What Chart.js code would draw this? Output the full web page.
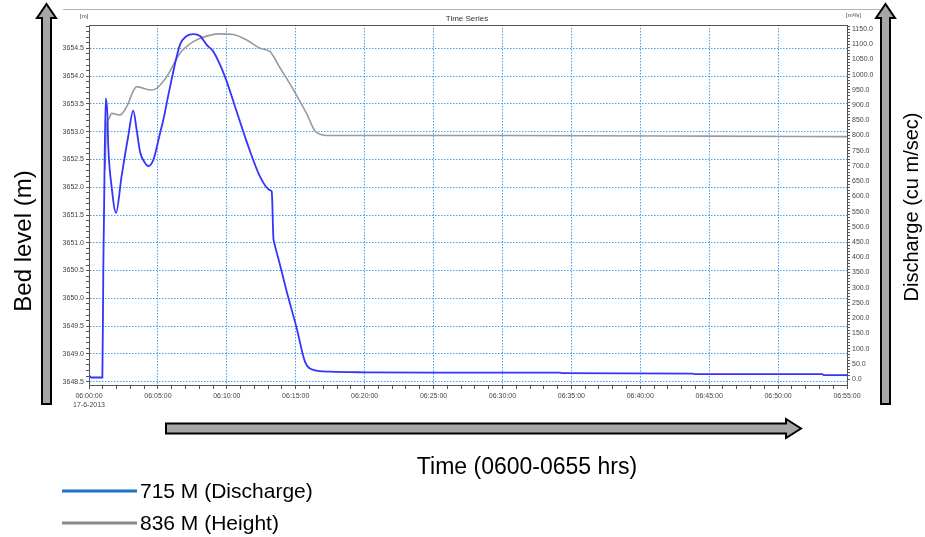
<!DOCTYPE html>
<html>
<head>
<meta charset="utf-8">
<script src="https://cdn.jsdelivr.net/npm/chart.js@4.4.0/dist/chart.umd.min.js"></script>
<style>
  body { margin: 0; background: #fff; }
  #wrap { position: relative; width: 925px; height: 537px; overflow: hidden; background: #fff; font-family: "Liberation Sans", Arial, sans-serif; }
  #chart { position: absolute; left: 0; top: 0; }
  .txt { position: absolute; white-space: nowrap; color: #000; }
  .rot { text-align: center; width: 240px; transform: rotate(-90deg); transform-origin: 50% 50%; }
  .small { font-size: 6px; color: #444; }
</style>
</head>
<body>
<div id="wrap">
  <svg width="925" height="537" style="position:absolute;left:0;top:0">
    <!-- panel top line -->
    <line x1="63" y1="9.5" x2="880" y2="9.5" stroke="#b4b4b4" stroke-width="1"/>
    <!-- left arrow -->
    <polygon points="46.5,4 56,18 51,18 51,404 42,404 42,18 37,18" fill="#a6a6a6" stroke="#000" stroke-width="2" stroke-linejoin="miter"/>
    <!-- right arrow -->
    <polygon points="885.5,4 895,18 890,18 890,404 881,404 881,18 876,18" fill="#a6a6a6" stroke="#000" stroke-width="2" stroke-linejoin="miter"/>
    <!-- bottom arrow -->
    <polygon points="166,423.5 786,423.5 786,419 801,428.5 786,438 786,433.5 166,433.5" fill="#a6a6a6" stroke="#000" stroke-width="2" stroke-linejoin="miter"/>
    <!-- legend lines -->
    <line x1="62" y1="491" x2="137" y2="491" stroke="#1f6fc2" stroke-width="3"/>
    <line x1="62" y1="523" x2="137" y2="523" stroke="#8a8a8a" stroke-width="3"/>
  </svg>
  <canvas id="chart" width="925" height="537"></canvas>

  <div class="txt" style="left:417px;top:14px;font-size:8px;color:#333;width:100px;text-align:center">Time Series</div>
  <div class="txt small" style="left:80px;top:13px">[m]</div>
  <div class="txt small" style="left:846px;top:12px">[m³/s]</div>

  <div class="txt rot" style="left:-97px;top:227px;font-size:24px;line-height:28px">Bed level (m)</div>
  <div class="txt rot" style="left:791px;top:194px;font-size:20px;line-height:26px">Discharge (cu m/sec)</div>
  <div class="txt" style="left:407px;top:452px;width:240px;text-align:center;font-size:23px;line-height:28px">Time (0600-0655 hrs)</div>

  <div class="txt" style="left:140px;top:479px;font-size:21px;line-height:24px">715 M (Discharge)</div>
  <div class="txt" style="left:140px;top:511px;font-size:21px;line-height:24px">836 M (Height)</div>
</div>

<script>
// minutes after 06:00 on 17-6-2013
const dischargeTimes = [0, 0.15, 0.97, 1.04, 1.09, 1.21, 1.33, 1.40, 1.64, 1.96, 2.36, 2.84, 3.21, 3.46, 3.70, 4.01, 4.30, 4.67, 5.15, 5.39, 5.88, 6.60, 7.09, 7.57, 8.06, 8.54, 9.02, 9.87, 10.72, 11.44, 12.41, 13.13, 13.26, 13.38, 13.42, 13.86, 14.35, 15.07, 15.67, 16.28, 17.49, 20, 25, 34.2, 34.3, 43.8, 43.9, 53.2, 53.3, 55]
const dischargeValues = [13, 5, 5, 368, 545, 922, 872, 763, 632, 546, 665, 796, 882, 818, 747, 714, 700, 720, 807, 851, 960, 1098, 1127, 1133, 1127, 1098, 1076, 993, 878, 780, 665, 621, 616, 462, 452, 375, 287, 167, 57, 30, 24, 22, 21, 21, 19, 18, 16, 16, 13, 13]

const heightTimes = [1.16, 1.28, 1.40, 1.64, 2.26, 2.73, 3.46, 4.43, 4.91, 5.64, 6.60, 7.57, 8.54, 9.50, 10.47, 11.44, 12.41, 13.13, 13.86, 14.96, 15.80, 16.40, 17.00, 17.49, 30, 45, 55]
const heightValues = [3652.31, 3653.15, 3653.21, 3653.33, 3653.30, 3653.45, 3653.81, 3653.75, 3653.78, 3653.99, 3654.41, 3654.62, 3654.72, 3654.76, 3654.75, 3654.65, 3654.50, 3654.44, 3654.15, 3653.70, 3653.32, 3653.01, 3652.94, 3652.93, 3652.93, 3652.92, 3652.91]

const bedLevelTicks = [3648.5, 3649.0, 3649.5, 3650.0, 3650.5, 3651.0, 3651.5, 3652.0, 3652.5, 3653.0, 3653.5, 3654.0, 3654.5]
const dischargeTicks = [0, 50, 100, 150, 200, 250, 300, 350, 400, 450, 500, 550, 600, 650, 700, 750, 800, 850, 900, 950, 1000, 1050, 1100, 1150]
const timeTicks = ['06:00:00', '06:05:00', '06:10:00', '06:15:00', '06:20:00', '06:25:00', '06:30:00', '06:35:00', '06:40:00', '06:45:00', '06:50:00', '06:55:00']
const dateLabel = '17-6-2013'

const gridBlue = '#4aa0f0'
const axisGrey = '#555'
const tickFont = {family: '"Liberation Sans", Arial, sans-serif', size: 7}

function isMajor(list, v) {
  return list.some(t => Math.abs(t - v) < 1e-6)
}

function minorTicks(from, to, step) {
  let out = []
  let n = Math.round((to - from) / step)
  for (let i = 0; i <= n; i++) {
    out.push({value: Math.round((from + i * step) * 1000) / 1000})
  }
  return out
}

// frame line on top of the plot area
const framePlugin = {
  id: 'frame',
  afterDraw(chart) {
    const {ctx, chartArea} = chart
    ctx.save()
    ctx.strokeStyle = axisGrey
    ctx.lineWidth = 1
    ctx.beginPath()
    ctx.moveTo(chartArea.left, chartArea.top + 0.5)
    ctx.lineTo(chartArea.right, chartArea.top + 0.5)
    ctx.stroke()
    ctx.restore()
  }
}

const ctx = document.getElementById('chart').getContext('2d')
const myChart = new Chart(ctx, {
  type: 'line',
  data: {
    datasets: [{
      label: '715 M (Discharge)',
      data: dischargeTimes.map((t, i) => ({x: t, y: dischargeValues[i]})),
      borderColor: '#3434ff',
      borderWidth: 1.8,
      yAxisID: 'yQ'
    },
    {
      label: '836 M (Height)',
      data: heightTimes.map((t, i) => ({x: t, y: heightValues[i]})),
      borderColor: '#9a9a9a',
      borderWidth: 1.6,
      yAxisID: 'yBed'
    }]
  },
  options: {
    responsive: false,
    animation: false,
    elements: { point: { radius: 0 }, line: { cubicInterpolationMode: 'monotone' } },
    layout: { padding: { left: 60, right: 45, top: 25, bottom: 127 } },
    plugins: { legend: { display: false }, title: { display: false }, tooltip: { enabled: false } },
    scales: {
      x: {
        type: 'linear',
        min: 0,
        max: 55,
        afterBuildTicks: (scale) => { scale.ticks = minorTicks(0, 55, 1) },
        afterFit: (scale) => { scale.height = 25 },
        ticks: {
          autoSkip: false,
          maxRotation: 0,
          padding: 3,
          font: tickFont,
          color: '#444',
          callback: (v) => {
            if (Math.round(v) % 5 !== 0) return ''
            let lbl = timeTicks[Math.round(v) / 5]
            return v === 0 ? [lbl, dateLabel] : lbl
          }
        },
        grid: {
          color: (c) => (c.tick && Math.round(c.tick.value) % 5 === 0) ? gridBlue : 'rgba(0,0,0,0)',
          tickColor: axisGrey,
          tickLength: 4,
          lineWidth: 1
        },
        border: { color: axisGrey, width: 1, dash: [1.5, 1.5] }
      },
      yBed: {
        type: 'linear',
        position: 'left',
        min: 3648.44,
        max: 3654.92,
        afterBuildTicks: (scale) => { scale.ticks = minorTicks(3648.5, 3654.9, 0.1) },
        afterFit: (scale) => { scale.width = 29 },
        ticks: {
          autoSkip: false,
          padding: 2,
          font: tickFont,
          color: '#444',
          callback: (v) => isMajor(bedLevelTicks, v) ? v.toFixed(1) : ''
        },
        grid: {
          color: (c) => (c.tick && isMajor(bedLevelTicks, c.tick.value)) ? gridBlue : 'rgba(0,0,0,0)',
          tickColor: axisGrey,
          tickLength: 3,
          lineWidth: 1
        },
        border: { color: axisGrey, width: 1, dash: [1.5, 1.5] }
      },
      yQ: {
        type: 'linear',
        position: 'right',
        min: -19.7,
        max: 1163.3,
        afterBuildTicks: (scale) => { scale.ticks = minorTicks(0, 1160, 10) },
        afterFit: (scale) => { scale.width = 33 },
        ticks: {
          autoSkip: false,
          padding: 2,
          font: tickFont,
          color: '#444',
          callback: (v) => isMajor(dischargeTicks, v) ? v.toFixed(1) : ''
        },
        grid: {
          drawOnChartArea: false,
          tickColor: axisGrey,
          tickLength: 3
        },
        border: { color: axisGrey, width: 1 }
      }
    }
  },
  plugins: [framePlugin]
})
</script>
</body>
</html>
